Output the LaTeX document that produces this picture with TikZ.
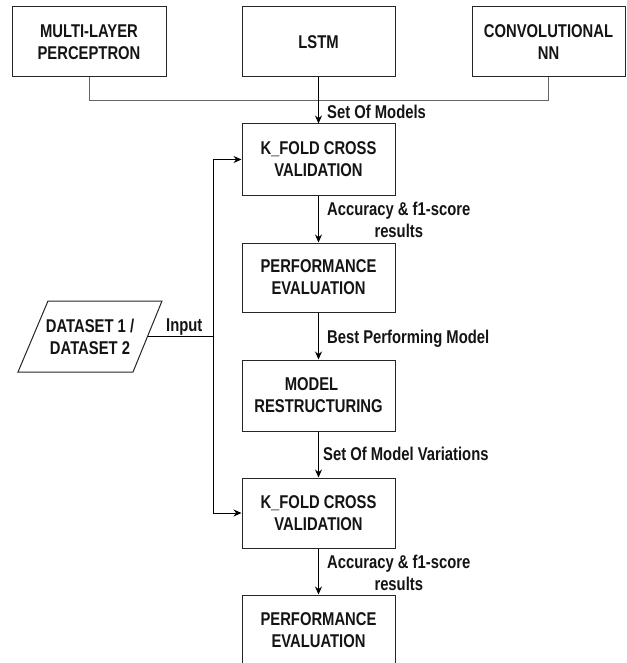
\documentclass[tikz,border=0pt]{standalone}
\usepackage{fontspec}
\setmainfont[FakeStretch=0.8]{Liberation Sans}
\usetikzlibrary{arrows.meta}
\begin{document}
\begin{tikzpicture}[x=1pt,y=-1pt,
  txt/.style={font=\bfseries\fontsize{18.5}{22}\selectfont, text=black!92},
  box/.style={txt, draw=black!85, line width=1pt, minimum width=153pt, inner sep=0pt, align=center},
  lbl/.style={txt, inner sep=0pt, anchor=base west, align=center},
  arr/.style={draw=black, line width=1pt, -{Stealth[length=8pt,width=7pt]}},
  conn/.style={draw=black!60, line width=1pt},
  plain/.style={draw=black, line width=1pt}]
\useasboundingbox (0,0) rectangle (626,663);
\fill[white] (0,0) rectangle (626,663);
\clip (0,0) rectangle (626,663);

% top row
\node[box, minimum width=154pt, minimum height=70pt] (mlp) at (89,42) {MULTI-LAYER\\PERCEPTRON};
\node[box, minimum height=70pt] (lstm) at (318.5,42) {LSTM};
\node[box, minimum height=70pt] (cnn) at (548.5,42) {CONVOLUTIONAL\\NN};

% main column
\node[box, minimum height=71pt] (kf1) at (318.5,159.5) {K\_FOLD CROSS\\VALIDATION};
\node[box, minimum height=69pt] (pe1) at (318.5,277.5) {PERFORMANCE\\EVALUATION};
\node[box, minimum height=71pt] (mr) at (318.5,395.5) {MODEL\hspace*{14pt}\\RESTRUCTURING};
\node[box, minimum height=70pt] (kf2) at (318.5,513) {K\_FOLD CROSS\\VALIDATION};
\node[box, minimum height=71pt] (pe2) at (318.5,630.5) {PERFORMANCE\\EVALUATION};

% dataset (parallelogram)
\coordinate (p1) at (48,301);
\coordinate (p2) at (162,301);
\coordinate (p3) at (133,372);
\coordinate (p4) at (18,372);
\draw[draw=black!85, line width=1pt] (p1) -- (p2) -- (p3) -- (p4) -- cycle;
\node[txt, inner sep=0pt, align=center] (ds) at (90,336.5) {DATASET 1 /\\DATASET 2};
\coordinate (dsr) at (147.5,336.5);

% top connectors
\coordinate (hl) at (89,101);
\coordinate (hr) at (548.5,101);
\draw[conn] (mlp.south) -- (hl) -- (hr) -- (cnn.south);
\draw[arr] (lstm.south) -- (kf1.north);

% column arrows
\draw[arr] (kf1.south) -- (pe1.north);
\draw[arr] (pe1.south) -- (mr.north);
\draw[arr] (mr.south) -- (kf2.north);
\draw[arr] (kf2.south) -- (pe2.north);

% input
\coordinate (jn) at (213,336.5);
\draw[plain] (dsr) -- (jn);
\draw[arr] (jn) |- (kf1.west);
\draw[arr] (jn) |- (kf2.west);

% labels
\node[lbl] (l1) at (327,119) {Set Of Models};
\node[lbl] (l2) at (327,237) {Accuracy \& f1-score\\results};
\node[lbl] (l3) at (327,343) {Best Performing Model};
\node[lbl] (l4) at (323,460) {Set Of Model Variations};
\node[lbl] (l5) at (327,590) {Accuracy \& f1-score\\results};
\node[lbl] (l6) at (166,331) {Input};
\end{tikzpicture}
\end{document}
